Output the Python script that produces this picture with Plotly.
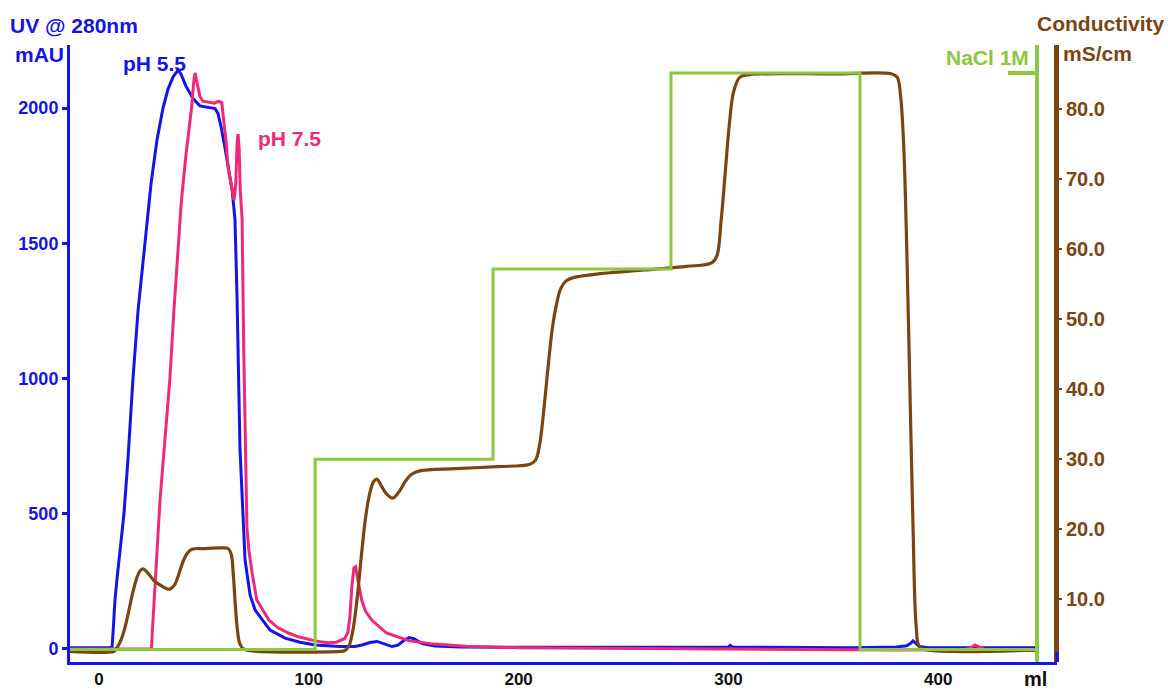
import plotly.graph_objects as go

# ---- data ----
# UV 280 nm, pH 5.5 (mAU) vs volume (ml)
ph55_ml = [-13.8, 6.2, 6.7, 7.6, 8.6, 10, 11.9, 13.8, 16.2, 18.6, 21.9, 24.8, 27.6, 30.5, 32.9, 35.3,
           37.7, 39.1, 41.5, 44.8, 48.1, 52, 55.3, 56.7, 58.2, 60.1, 62, 63.4, 64.8, 65.8, 67.2, 69.6,
           72, 74.4, 81.5, 88.7, 95.8, 103, 114.9, 122, 125.4, 129.2, 132.5, 136.3, 139.7, 142.5,
           145.4, 147.8, 150.1, 154, 160.2, 172, 200, 250, 300, 300.8, 302, 340, 360, 380, 385, 387,
           388, 389.5, 391, 395, 420, 447]
ph55_mau = [5, 5, 60, 180, 260, 360, 500, 700, 1000, 1250, 1500, 1720, 1880, 2000, 2070, 2115,
            2140, 2125, 2080, 2035, 2008, 2003, 1998, 1980, 1930, 1850, 1760, 1700, 1590, 1300, 740, 330,
            200, 144, 70, 40, 25, 15, 9, 9, 15, 24, 28, 18, 9, 14,
            32, 42, 38, 20, 11, 7, 6, 6, 7, 13, 7, 5, 5, 7, 12, 22,
            30, 20, 9, 5, 5, 5]

# UV 280 nm, pH 7.5 (mAU)
ph75_ml = [-13.8, 25, 25.4, 26, 27.2, 29.1, 31.5, 33.8, 35.7, 37.7, 39.2, 41.5, 44.1, 45.2, 45.8,
           46.8, 48.1, 49.5, 52, 55, 57, 58.5, 59.5, 60.6, 61.5, 63, 64.4, 65.2, 65.8, 66.3, 66.8,
           67.3, 68.2, 69, 69.8, 70.5, 71.4, 73, 75.2, 81, 85, 90, 95, 103, 109, 113, 117, 118.6,
           119.6, 120.5, 121.5, 122.3, 123.5, 125.2, 127, 130, 137, 148, 160, 175, 200, 250, 300,
           340, 380, 412, 415, 417.5, 420, 423, 447]
ph75_mau = [0, 0, 60, 150, 300, 552, 780, 1000, 1250, 1500, 1650, 1830, 2000, 2100, 2130,
            2090, 2044, 2025, 2022, 2018, 2025, 2020, 1950, 1874, 1780, 1711, 1660, 1720, 1870, 1904, 1850,
            1700, 1589, 1100, 700, 450, 367, 280, 181, 107, 80, 60, 45, 30, 23, 25, 38, 60,
            120, 230, 300, 304, 250, 181, 140, 107, 59, 30, 18, 10, 5, 2, 0,
            -3, -4, -3, 2, 15, 5, -3, -5]

# Conductivity (mS/cm)
cond_ml = [-13.8, 7, 8, 10, 12, 14, 16, 18, 19.5, 21, 23, 26, 29, 32, 33.8, 36, 38, 40, 42, 44.3,
           50, 58, 61.5, 63, 64, 65, 66, 67, 68.6, 72, 115, 117, 119, 121, 123, 125, 127, 129, 131,
           132.5, 134.5, 137, 140, 143, 146, 149, 153, 170, 190, 205, 208, 210, 212, 214, 216, 218,
           220, 222.5, 226, 240, 260, 280, 292, 294.5, 296.5, 298.5, 300.5, 302.5, 305.4, 310, 350,
           378, 380.5, 382, 383.5, 385, 386.5, 388, 389.5, 391, 395, 447]
cond_ms = [2.5, 2.5, 2.8, 3.8, 5.5, 8, 10.8, 13, 14, 14.3, 13.8, 12.7, 12, 11.5, 11.4, 12, 13.5, 15.3, 16.5, 17.1,
           17.2, 17.3, 17.2, 16.4, 13.5, 9, 5.5, 3.7, 2.9, 2.6, 2.5, 2.6, 3.2, 5.5, 10, 16, 21.5, 25, 26.8,
           27.1, 26.2, 25, 24.4, 25.3, 26.8, 27.8, 28.3, 28.6, 28.9, 29.2, 29.8, 32, 37, 43, 48.5, 52,
           54.3, 55.4, 55.9, 56.5, 57, 57.5, 58, 59, 64, 71, 78, 82.5, 84.5, 84.9, 85,
           85, 84.5, 82, 75, 60, 40, 20, 6, 3.2, 2.7, 2.7]

# NaCl step gradient (fraction of 1 M)
nacl_ml = [-13.8, 103, 187.8, 272.6, 362.7, 447]
nacl_frac = [0, 0.33, 0.66, 1.0, 0, 0]

x_ticks = [0, 100, 200, 300, 400]
uv_ticks = [0, 500, 1000, 1500, 2000]
cond_ticks = [10, 20, 30, 40, 50, 60, 70, 80]
cond_labels = ["10.0", "20.0", "30.0", "40.0", "50.0", "60.0", "70.0", "80.0"]

# ---- style ----
BLUE = "#1414e6"
PINK = "#f0287a"
BROWN = "#7a4513"
GREEN = "#8dc63f"
FONT = "Liberation Sans"

fig = go.Figure()
fig.add_trace(go.Scatter(x=nacl_ml, y=nacl_frac, yaxis="y3", mode="lines", line_shape="hv",
                         line=dict(color=GREEN, width=3), name="NaCl"))
fig.add_trace(go.Scatter(x=cond_ml, y=cond_ms, yaxis="y2", mode="lines",
                         line=dict(color=BROWN, width=3.2), line_shape="spline", name="Conductivity"))
fig.add_trace(go.Scatter(x=ph55_ml, y=ph55_mau, mode="lines",
                         line=dict(color=BLUE, width=3), name="pH 5.5"))
fig.add_trace(go.Scatter(x=ph75_ml, y=ph75_mau, mode="lines",
                         line=dict(color=PINK, width=3), name="pH 7.5"))

L, R, T, B = 70, 111, 45, 29
fig.update_layout(
    width=1168, height=691,
    margin=dict(l=L, r=R, t=T, b=B, pad=0, autoexpand=False),
    paper_bgcolor="white", plot_bgcolor="white",
    showlegend=False,
    font=dict(family=FONT, weight="bold"),
    xaxis=dict(range=[-13.82, 456.6], tickvals=x_ticks, ticks="",
               showgrid=False, zeroline=False, automargin=False,
               showline=True, linecolor=BLUE, linewidth=3,
               tickfont=dict(family=FONT, size=17, color="#111111", weight="bold")),
    yaxis=dict(range=[-48.1, 2233], tickvals=uv_ticks, ticks="outside", ticklen=5, tickwidth=3,
               tickcolor=BLUE, showgrid=False, zeroline=False, automargin=False,
               showline=True, linecolor=BLUE, linewidth=3,
               tickfont=dict(family=FONT, size=18, color=BLUE, weight="bold")),
    yaxis2=dict(range=[0.99, 89.13], overlaying="y", side="right", anchor="free", position=0.999,
                tickvals=cond_ticks, ticktext=cond_labels, ticks="outside", ticklen=3, tickwidth=2,
                tickcolor=BROWN, showgrid=False, zeroline=False, automargin=False,
                showline=True, linecolor=BROWN, linewidth=5,
                tickfont=dict(family=FONT, size=20, color=BROWN, weight="bold")),
    yaxis3=dict(range=[-0.0217, 1.0486], overlaying="y", side="left", anchor="free", position=0.9801,
                tickvals=[1], ticktext=[""], ticks="outside", ticklen=27, tickwidth=4,
                tickcolor=GREEN, showgrid=False, zeroline=False, automargin=False,
                showline=True, linecolor=GREEN, linewidth=4),
)

H = 662 - 45
W = 1057 - 70
def px(xp):
    return (xp - 70) / W
def py(yp):
    return (662 - yp) / H

def ann(text, x, y, color, xanchor="left", size=21):
    fig.add_annotation(text=text, x=px(x), y=py(y), xref="paper", yref="paper",
                       xanchor=xanchor, yanchor="middle", showarrow=False,
                       font=dict(family=FONT, size=size, color=color, weight="bold"))

ann("UV @ 280nm", 8, 25, BLUE)
ann("mAU", 66, 55, BLUE, xanchor="right")
ann("pH 5.5", 121, 63, BLUE)
ann("pH 7.5", 256, 138, PINK)
ann("Conductivity", 1166, 23, BROWN, xanchor="right")
ann("mS/cm", 1061, 53, BROWN)
ann("NaCl 1M", 1031, 57, GREEN, xanchor="right")
ann("ml", 1035, 679, "#111111", xanchor="center", size=20)

fig.add_shape(type="line", xref="paper", yref="paper", x0=1, x1=1, y0=0, y1=py(652),
              line=dict(color=BLUE, width=3), layer="above")

fig.write_html("out.html", config={"displayModeBar": False},
               post_script="document.body.style.margin='0';document.body.style.overflow='hidden';")
